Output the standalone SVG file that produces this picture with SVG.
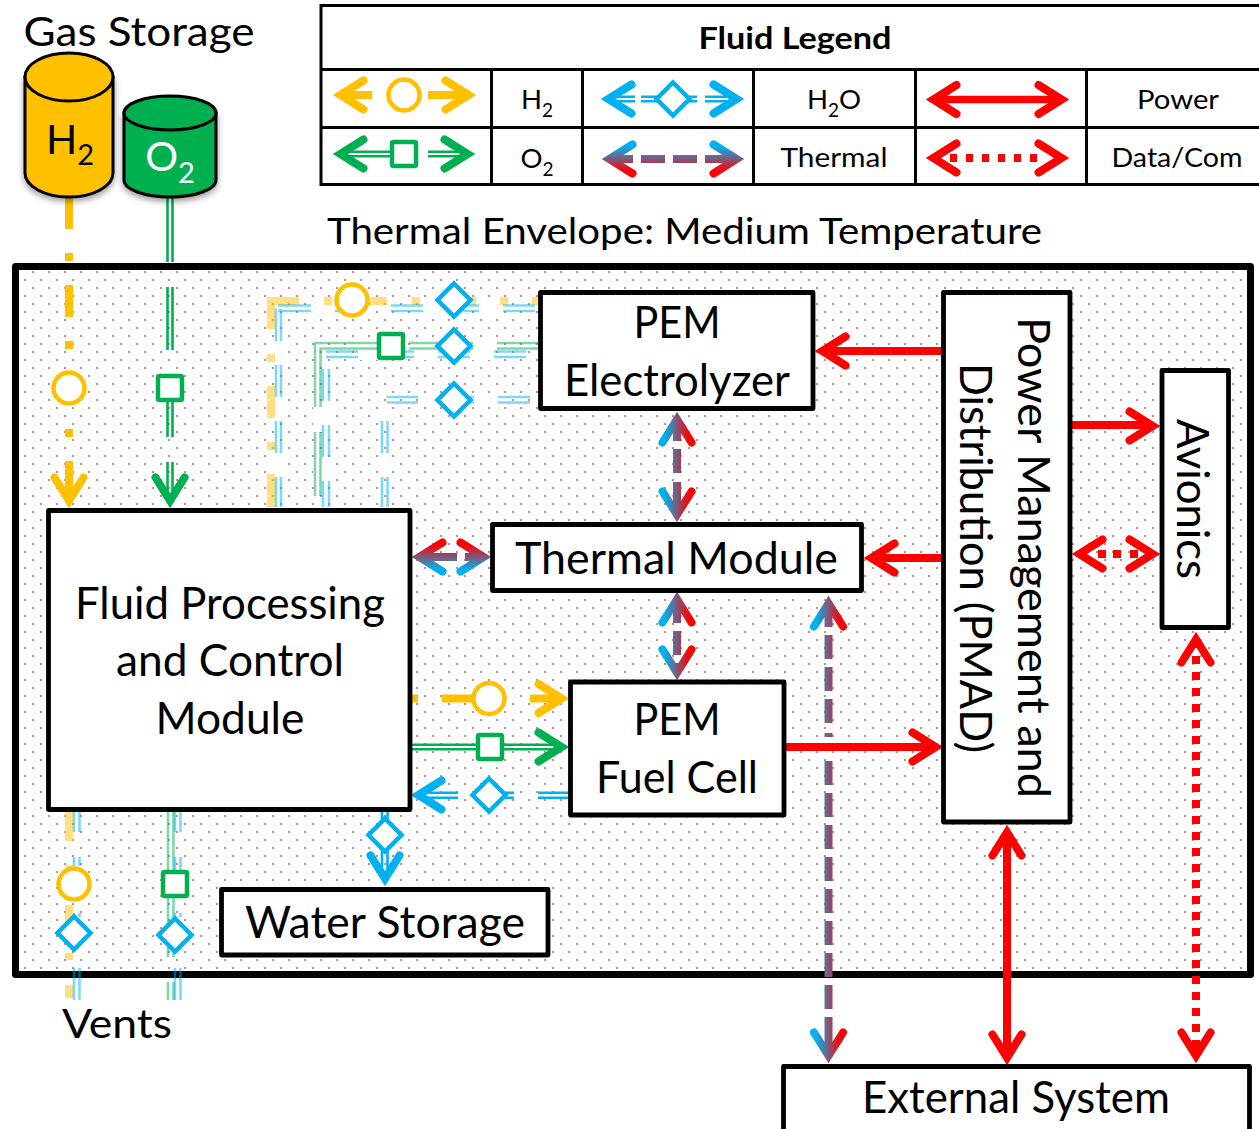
<svg xmlns="http://www.w3.org/2000/svg" width="1259" height="1129" viewBox="0 0 1259 1129">
<style>
text{font-family:"Lato","Carlito","Open Sans",sans-serif;fill:#000;text-anchor:middle}
.box{fill:#fff;stroke:#000;stroke-width:4.800;stroke-linejoin:round}
.grid{fill:none;stroke:#000;stroke-width:3}
.t46{font-size:44px}
.t29{font-size:27.500px}
.y{stroke:#ffc000}.g{stroke:#00b050}.b{stroke:#00b0f0}.r{stroke:#f00}
.p{fill:none;stroke-opacity:.5}
.l{fill:none;stroke-width:8}
.d{fill:none;stroke-width:2.6}
.wh{fill:none;stroke:#fff}
.ah{fill:none;stroke-width:8;stroke-linecap:round;stroke-linejoin:miter;stroke-miterlimit:10}
.c{fill:#fff;stroke-width:4.5}
</style>
<defs>
<pattern id="dots" width="16" height="16" patternUnits="userSpaceOnUse" x="0" y="15">
<rect width="16" height="16" fill="#fff"/>
<rect x="0" y="0" width="2" height="2" fill="#cf8b88"/>
<rect x="8" y="8" width="2" height="2" fill="#cf8b88"/>
</pattern>
<filter id="sh" x="-20%" y="-20%" width="140%" height="140%"><feDropShadow dx="0" dy="3" stdDeviation="3" flood-color="#000" flood-opacity=".4"/></filter>
<path id="ah" class="ah" d="M-30.500,-14.500L-7.300,0L-30.500,14.500"/>
<g id="dm"><path class="c b" d="M0,-16.500L16.500,0L0,16.500L-16.500,0Z"/></g>
<g id="ci"><circle class="c y" r="15.500"/></g>
<g id="sq"><rect class="c g" x="-12" y="-12" width="24" height="24" rx="1.500"/></g>
<linearGradient id="hn" gradientUnits="userSpaceOnUse" x1="0" y1="-12" x2="0" y2="12"><stop offset="0" stop-color="#00b0f0"/><stop offset="1" stop-color="#f00"/></linearGradient>
<linearGradient id="hr" gradientUnits="userSpaceOnUse" x1="0" y1="-12" x2="0" y2="12"><stop offset="0" stop-color="#f00"/><stop offset="1" stop-color="#00b0f0"/></linearGradient>
<linearGradient id="v677" gradientUnits="userSpaceOnUse" x1="665" y1="0" x2="689" y2="0"><stop offset="0" stop-color="#00b0f0"/><stop offset="1" stop-color="#f00"/></linearGradient>
<linearGradient id="v828" gradientUnits="userSpaceOnUse" x1="816.500" y1="0" x2="840.500" y2="0"><stop offset="0" stop-color="#00b0f0"/><stop offset="1" stop-color="#f00"/></linearGradient>
<linearGradient id="h557" gradientUnits="userSpaceOnUse" x1="0" y1="545" x2="0" y2="569"><stop offset="0" stop-color="#f00"/><stop offset="1" stop-color="#00b0f0"/></linearGradient>
<linearGradient id="h159" gradientUnits="userSpaceOnUse" x1="0" y1="147" x2="0" y2="171"><stop offset="0" stop-color="#00b0f0"/><stop offset="1" stop-color="#f00"/></linearGradient>
</defs>
<rect width="1259" height="1129" fill="#fff"/>

<text x="139" y="46" style="font-size:41.500px" textLength="231" lengthAdjust="spacingAndGlyphs">Gas Storage</text>
<text x="684.500" y="244" style="font-size:37px" textLength="715" lengthAdjust="spacingAndGlyphs">Thermal Envelope: Medium Temperature</text>
<text x="117" y="1038" style="font-size:41.500px" textLength="110" lengthAdjust="spacingAndGlyphs">Vents</text>

<g id="legend">
<path class="grid" d="M321,5.500H1259M321,69.500H1259M321,127.500H1259M321,184.500H1259M321,4V186M491.500,69V185M582.500,69V185M753.500,69V185M915.500,69V185M1086.500,69V185"/>
<text x="795" y="49" style="font-size:31px;font-weight:700" textLength="193" lengthAdjust="spacingAndGlyphs">Fluid Legend</text>
<text class="t29" x="537" y="109">H<tspan dy="8" font-size="19">2</tspan></text>
<text class="t29" x="537" y="168">O<tspan dy="8" font-size="19">2</tspan></text>
<text class="t29" x="834" y="109">H<tspan dy="8" font-size="19">2</tspan><tspan dy="-8">O</tspan></text>
<text class="t29" x="834" y="167" textLength="107" lengthAdjust="spacingAndGlyphs">Thermal</text>
<text class="t29" x="1178" y="109" textLength="82" lengthAdjust="spacingAndGlyphs">Power</text>
<text class="t29" x="1177" y="167" textLength="131" lengthAdjust="spacingAndGlyphs">Data/Com</text>
<path class="l y" d="M340,95H372M428,95H468"/>
<use href="#ah" class="y" transform="translate(333,95) rotate(180)"/>
<use href="#ah" class="y" transform="translate(476,95)"/>
<use href="#ci" x="404" y="95"/>
<path class="d b" d="M608,96.800H635M608,101.200H635M641,96.800H662M641,101.200H662M684,96.800H697M684,101.200H697M705,96.800H738M705,101.200H738"/>
<use href="#ah" class="b" transform="translate(601,99) rotate(180)"/>
<use href="#ah" class="b" transform="translate(744,99)"/>
<use href="#dm" x="673" y="99"/>
<path class="d g" d="M340,151.800H392M340,156.200H392M428,151.800H468M428,156.200H468"/>
<use href="#ah" class="g" transform="translate(333,154) rotate(180)"/>
<use href="#ah" class="g" transform="translate(475,154)"/>
<use href="#sq" x="404" y="154"/>
<path class="l" stroke="url(#h159)" d="M608,159H633M641,159H665M673,159H697M705,159H738"/>
<use href="#ah" stroke="url(#hr)" transform="translate(602,159) rotate(180)"/>
<use href="#ah" stroke="url(#hn)" transform="translate(744,159)"/>
<path class="l r" style="stroke-width:7.500" d="M933,99.500H1062"/>
<use href="#ah" class="r" transform="translate(926,99.500) rotate(180)"/>
<use href="#ah" class="r" transform="translate(1069,99.500)"/>
<path class="l r" d="M950,158H957M966,158H973M982,158H989M998,158H1005M1014,158H1021M1030,158H1037"/>
<use href="#ah" class="r" transform="translate(926,158) rotate(180)"/>
<use href="#ah" class="r" transform="translate(1069,158)"/>
</g>

<g id="envelope">
<rect x="15.500" y="266.500" width="1235" height="708" fill="url(#dots)" stroke="#000" stroke-width="7" stroke-linejoin="round"/>
</g>

<g id="connectors">
<!-- white gaps of the background routes -->
<path class="wh" stroke-width="19" d="M275.500,341V365M275.500,397V421M275.500,453V477"/>
<path class="wh" stroke-width="18" d="M322,401V432M322,457V481"/>
<path class="wh" stroke-width="11" d="M385,405V421M385,453V477"/>
<path class="wh" stroke-width="16" d="M311,305H335M423,305H463M479,305H503"/>
<path class="wh" stroke-width="20" d="M358,350H380M414,350H438M470,350H494"/>
<path class="wh" stroke-width="11" d="M418,400H438M474,400H498"/>
<!-- background routes -->
<path class="l y p" d="M271,507V474M271,450V442M271,418V386M271,362V354M271,329V301H299M324,301H332M370,301H387M412,301H420M467,301H476M500,301H508M532,301H539"/>
<path class="d b p" d="M276,507V477M281,507V477M276,453V421M281,453V421M276,397V365M281,397V365M276,341V309M281,341V309M278,305.500H311M278,311H311M335,305.500H340M335,311H340M391,305.500H423M391,311H423M463,305.500H479M463,311H479M503,305.500H535M503,311H535"/>
<path class="d g p" d="M315,407V343H380M320.500,407V348.500H380M315,496V432M320.500,496V432M409,343H473M409,348.500H473M497,343H538M497,348.500H538"/>
<path class="d b p" d="M326,351.500H358M326,357H358M405,351.500H414M405,357H414M438,351.500H470M438,357H470M494,351.500H526M494,357H526M323,401V369M329,401V369M323,457V425M329,457V425M323,507V481M329,507V481"/>
<path class="d b p" d="M387,397H418M387,402.500H418M470,397H474M470,402.500H474M498,397H530M498,402.500H530M382,453V421M387.500,453V421M382,507V477M387.500,507V477"/>
<use href="#ci" x="352" y="300"/>
<use href="#sq" x="391" y="346"/>
<use href="#dm" x="454" y="300"/>
<use href="#dm" x="454" y="346"/>
<use href="#dm" x="454" y="400"/>
<!-- gas feeds -->
<path class="l y" d="M69,197V229M69,253V261M69,285V317M69,341V349M69,373V405M69,429V437M69,461V500"/>
<use href="#ci" x="69" y="388"/>
<use href="#ah" class="y" transform="translate(69,508) rotate(90)"/>
<path class="d g" d="M167.500,197V262M172.500,197V262M167.500,287V350M172.500,287V350M167.500,400V437M172.500,400V437M167.500,462V500M172.500,462V500"/>
<use href="#sq" x="170" y="388"/>
<use href="#ah" class="g" transform="translate(170,508) rotate(90)"/>
<!-- vents -->
<path class="l y p" d="M69,812V841M69,865V873M69,905V925M69,953V960M69,985V998"/>
<path class="d b p" d="M74,810V832M79.500,810V832M74,857V866M79.500,857V866M74,913V917M79.500,913V917M74,968V1000M79.500,968V1000"/>
<path class="d g p" d="M168,810V957M173.500,810V957M168,982V1000M173.500,982V1000"/>
<path class="d b p" d="M175,810V832M180.500,810V832M175,857V870M180.500,857V870M175,913V917M180.500,913V917M175,968V1000M180.500,968V1000"/>
<use href="#ci" x="74" y="884"/>
<use href="#dm" x="74" y="933"/>
<use href="#sq" x="175" y="884"/>
<use href="#dm" x="175" y="935"/>
<!-- water -->
<path class="d b" d="M382,809V822M387.500,809V822M382,850V878M387.500,850V878"/>
<use href="#dm" x="385" y="835"/>
<use href="#ah" class="b" transform="translate(385,886) rotate(90)"/>
<!-- fuel cell feeds -->
<path class="l y" d="M411,698.500H418M442,698.500H473M530,698.500H561"/>
<use href="#ci" x="489" y="698.500"/>
<use href="#ah" class="y" transform="translate(569,698.500)"/>
<path class="d g" d="M411,744.800H478M411,749.300H478M502,744.800H561M502,749.300H561"/>
<use href="#sq" x="490" y="747"/>
<use href="#ah" class="g" transform="translate(569,747)"/>
<path class="d b" d="M418,792.700H458M418,797.700H458M500,792.700H514M500,797.700H514M538,792.700H570M538,797.700H570"/>
<use href="#dm" x="489" y="795"/>
<use href="#ah" class="b" transform="translate(411,795) rotate(180)"/>
<!-- thermal -->
<path class="l" stroke="url(#v677)" d="M677,418V441M677,449V473M677,482V514"/>
<use href="#ah" stroke="url(#hn)" transform="translate(677,412) rotate(-90)"/>
<use href="#ah" stroke="url(#hr)" transform="translate(677,522) rotate(90)"/>
<path class="l" stroke="url(#v677)" d="M677,598V623M677,631V655M677,663V673"/>
<use href="#ah" stroke="url(#hn)" transform="translate(677,592) rotate(-90)"/>
<use href="#ah" stroke="url(#hr)" transform="translate(677,680) rotate(90)"/>
<path class="l" stroke="url(#h557)" d="M419,557H457M465,557H484"/>
<use href="#ah" stroke="url(#hn)" transform="translate(412,557) rotate(180)"/>
<use href="#ah" stroke="url(#hr)" transform="translate(491,557)"/>
<path class="l" stroke="url(#v828)" d="M828.500,603V627M828.500,635V659M828.500,667V691M828.500,699V723M828.500,733V737M828.500,761V785M828.500,793V817M828.500,825V849M828.500,857V881M828.500,889V913M828.500,921V945M828.500,953V977M828.500,985V1009M828.500,1017V1055"/>
<use href="#ah" stroke="url(#hn)" transform="translate(828.500,596) rotate(-90)"/>
<use href="#ah" stroke="url(#hr)" transform="translate(828.500,1063) rotate(90)"/>
<!-- power -->
<path class="l r" d="M942,351H822"/>
<use href="#ah" class="r" transform="translate(815,351) rotate(180)"/>
<path class="l r" d="M942,558H871"/>
<use href="#ah" class="r" transform="translate(864,558) rotate(180)"/>
<path class="l r" d="M785,747H936"/>
<use href="#ah" class="r" transform="translate(943,747)"/>
<path class="l r" d="M1071,425H1153"/>
<use href="#ah" class="r" transform="translate(1160,426)"/>
<path class="l r" d="M1007,832V1057"/>
<use href="#ah" class="r" transform="translate(1007,825) rotate(-90)"/>
<use href="#ah" class="r" transform="translate(1007,1065) rotate(90)"/>
<!-- data -->
<path class="l r" d="M1098,554H1106M1113,554H1121M1130,554H1138"/>
<use href="#ah" class="r" transform="translate(1072,554) rotate(180)"/>
<use href="#ah" class="r" transform="translate(1160,554)"/>
<path class="l r" stroke-dasharray="8 8" d="M1196,640V1056"/>
<use href="#ah" class="r" transform="translate(1196,632) rotate(-90)"/>
<use href="#ah" class="r" transform="translate(1196,1063) rotate(90)"/>
</g>

<g id="h2-tank">
<path d="M25,77V173A44,24 0 0 0 113,173V77Z" fill="#ffc000" stroke="#000" stroke-width="3" filter="url(#sh)"/>
<ellipse cx="69" cy="77" rx="44" ry="24" fill="#ffc000" stroke="#000" stroke-width="3"/>
<text x="70" y="154" style="font-size:41px">H<tspan dy="11" font-size="29">2</tspan></text>
</g>
<g id="o2-tank">
<path d="M124,113V180A46,17 0 0 0 216,180V113Z" fill="#00b050" stroke="#000" stroke-width="3" filter="url(#sh)"/>
<ellipse cx="170" cy="113" rx="46" ry="17" fill="#00b050" stroke="#000" stroke-width="3"/>
<text x="170" y="171" style="font-size:41px;fill:#fff">O<tspan dy="12" font-size="29" style="fill:#fff">2</tspan></text>
</g>
<g id="pem-electrolyzer">
<rect class="box" x="540.500" y="292.500" width="272.500" height="116"/>
<text class="t46" x="677" y="338" textLength="87" lengthAdjust="spacingAndGlyphs">PEM</text>
<text class="t46" x="677" y="396" textLength="226" lengthAdjust="spacingAndGlyphs">Electrolyzer</text>
</g>
<g id="thermal-module">
<rect class="box" x="492.500" y="524.500" width="369" height="66"/>
<text class="t46" x="676.500" y="574" textLength="323" lengthAdjust="spacingAndGlyphs">Thermal Module</text>
</g>
<g id="fluid-processing">
<rect class="box" x="48.500" y="510.500" width="361.500" height="299"/>
<text class="t46" x="230" y="619" textLength="310" lengthAdjust="spacingAndGlyphs">Fluid Processing</text>
<text class="t46" x="230" y="676" textLength="228" lengthAdjust="spacingAndGlyphs">and Control</text>
<text class="t46" x="230" y="734" textLength="149" lengthAdjust="spacingAndGlyphs">Module</text>
</g>
<g id="pem-fuel-cell">
<rect class="box" x="570.500" y="682" width="213.500" height="133"/>
<text class="t46" x="677" y="735" textLength="87" lengthAdjust="spacingAndGlyphs">PEM</text>
<text class="t46" x="677" y="793" textLength="162" lengthAdjust="spacingAndGlyphs">Fuel Cell</text>
</g>
<g id="pmad">
<rect class="box" x="943.500" y="292.500" width="126.500" height="529.500"/>
<text class="t46" transform="translate(1018,557.500) rotate(90)" textLength="481" lengthAdjust="spacingAndGlyphs">Power Management and</text>
<text class="t46" transform="translate(960,558) rotate(90)" textLength="390" lengthAdjust="spacingAndGlyphs">Distribution (PMAD)</text>
</g>
<g id="avionics">
<rect class="box" x="1162" y="370.500" width="66.500" height="257"/>
<text class="t46" transform="translate(1177,499) rotate(90)" textLength="160" lengthAdjust="spacingAndGlyphs">Avionics</text>
</g>
<g id="water-storage">
<rect class="box" x="221.500" y="889.500" width="326.500" height="65.500"/>
<text class="t46" x="385" y="938" textLength="280" lengthAdjust="spacingAndGlyphs">Water Storage</text>
</g>
<g id="external-system">
<rect class="box" x="783.500" y="1066.500" width="466" height="70"/>
<text class="t46" x="1016" y="1113" textLength="308" lengthAdjust="spacingAndGlyphs">External System</text>
</g>
</svg>
